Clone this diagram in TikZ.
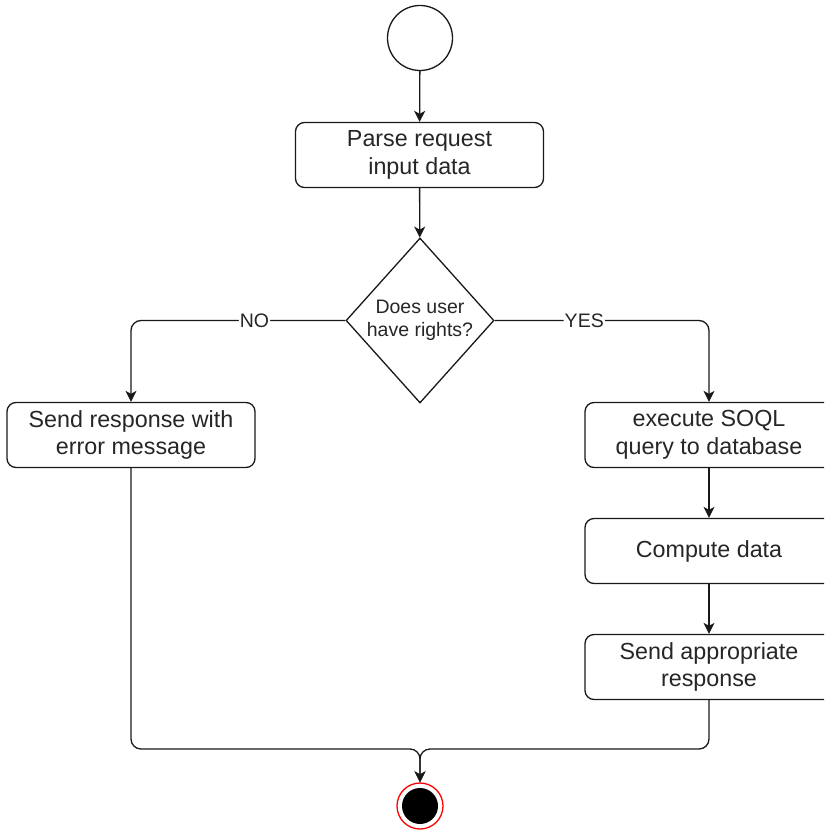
\documentclass[tikz,border=0pt]{standalone}
\usepackage{fontspec}
\setmainfont{Liberation Sans}
\usetikzlibrary{shapes.geometric,arrows.meta}
\begin{document}
\begin{tikzpicture}[x=1pt,y=-1pt,
  every node/.style={text=black!85},
  line/.style={line width=1.3pt,draw=black!90},
  arr/.style={line,-{Stealth[length=11pt,width=11pt,inset=3pt]}},
  action/.style={line,rectangle,rounded corners=9pt,fill=white,minimum width=248pt,minimum height=65pt,inner sep=0pt,align=center,font=\fontsize{23.3}{27.5}\selectfont},
  decision/.style={line,diamond,fill=white,minimum width=148pt,minimum height=165pt,inner sep=0pt,align=center,font=\fontsize{19.5}{23.5}\selectfont},
  elabel/.style={fill=white,inner sep=1pt,font=\fontsize{19.5}{23.5}\selectfont}]
\useasboundingbox (0,0) rectangle (824,832);
\clip (0,0) rectangle (824,832);

\node[line,circle,minimum size=65pt,inner sep=0pt] (start) at (420,38) {};
\node[action] (parse) at (419.5,155) {Parse request\\input data};
\node[decision] (dec) at (420,320.5) {\makebox[0pt]{Does user}\\\makebox[0pt]{have rights?}};
\node[action] (err) at (131,435) {Send response with\\error message};
\node[action] (exec) at (709,435) {execute SOQL\\query to database};
\node[action] (comp) at (709,551) {Compute data};
\node[action] (resp) at (709,667) {Send appropriate\\response};
\node[circle,draw=red,line width=1.3pt,fill=white,minimum size=46pt,inner sep=0pt,
  path picture={\fill[black] (path picture bounding box.center) circle (18pt);}] (end) at (420,806) {};
\coordinate (merge) at (420,749);

\draw[arr] (start) -- (parse);
\draw[arr] (parse) -- (dec);
\draw[arr,rounded corners=10pt] (dec.west) -| node[elabel,pos=0.212] {NO} (err.north);
\draw[arr,rounded corners=10pt] (dec.east) -| node[elabel,pos=0.209] {YES} (exec.north);
\draw[arr] (exec) -- (comp);
\draw[arr] (comp) -- (resp);
\draw[arr,rounded corners=10pt] (err.south) -- (err.south |- merge) -- (merge) -- (end.north);
\draw[arr,rounded corners=10pt] (resp.south) -- (resp.south |- merge) -- (merge) -- (end.north);
\end{tikzpicture}
\end{document}
